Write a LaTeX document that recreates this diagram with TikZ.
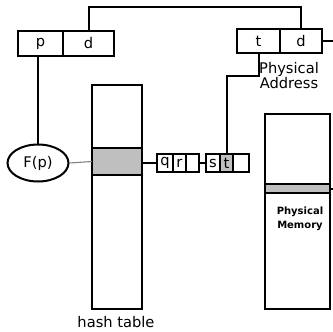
\documentclass[tikz,border=0pt]{standalone}
\usepackage{fontspec}
\setmainfont{DejaVu Sans}
\usetikzlibrary{shapes.geometric, positioning}

\begin{document}
\begin{tikzpicture}[
    x=0.75pt, y=-0.75pt,
    txt/.style={font=\fontsize{11}{11.5}\selectfont},
    cell/.style={rectangle, draw, line width=1.5pt, outer sep=0pt, inner sep=0pt, txt},
    bigcell/.style={cell, minimum height=18.5pt},
    smallcell/.style={cell, minimum height=13.5pt},
    col/.style={rectangle, draw, line width=1.5pt, outer sep=0pt, inner sep=0pt},
    wire/.style={line width=1.5pt},
]
\useasboundingbox (0,0) rectangle (333,332);

% Logical address
\node[bigcell, minimum width=33.75pt] (p) at (40.5,43.5) {p};
\node[bigcell, minimum width=38.25pt, right=0pt of p] (ld) {d};

% Physical address
\node[bigcell, minimum width=32.25pt] (t) at (258.5,41) {t};
\node[bigcell, minimum width=31.5pt, right=0pt of t] (pd) {d};
\node[txt, align=center, anchor=north, inner sep=0pt] (paddr) at (289,62) {Physical\\Address};

% Hash function
\node[ellipse, draw, line width=1.5pt, minimum width=45.75pt, minimum height=27.75pt, inner sep=0pt, txt] (fp) at (38,163) {F(p)};

% Hash table
\node[col, minimum width=37.5pt, minimum height=168pt] (htab) at (117,197) {};
\node[col, fill=gray!50, minimum width=37.5pt, minimum height=20.25pt] (hrow) at (117,161.5) {};
\node[txt, anchor=north, inner sep=0pt] (hlabel) at (116,316) {hash table};

% Chain entries
\node[smallcell, minimum width=12pt] (q) at (165,163) {q};
\node[smallcell, minimum width=9.75pt, right=0pt of q] (r) {r};
\node[smallcell, minimum width=9.75pt, right=0pt of r] (qnext) {};
\node[smallcell, minimum width=10.5pt] (s) at (213,163) {s};
\node[smallcell, minimum width=9.75pt, fill=gray!50, right=0pt of s] (tt) {t};
\node[smallcell, minimum width=12pt, right=0pt of tt] (snext) {};

% Physical memory
\node[col, minimum width=48.75pt, minimum height=146.25pt] (pmem) at (297.5,211.5) {};
\node[col, fill=gray!50, minimum width=48.75pt, minimum height=6.75pt] (frame) at (297.5,188.5) {};
\node[font=\fontsize{7.5}{10}\selectfont\bfseries, align=center, anchor=north, inner sep=0pt] (plabel) at (300,207) {Physical\\Memory};

\coordinate (pdout) at (333,41);
\coordinate (frout) at (333,188.5);

% Connectors
\draw[wire] (ld.north) -- ++(0,-24) -| (pd.north);
\draw[wire] (pd.east) -- (pdout);
\draw[wire] (fp.north) -- (fp.north |- p.south);
\draw[gray, line width=0.8pt] (fp.east) -- (hrow.west);
\draw[wire] (hrow.east |- q.west) -- (q.west);
\draw[wire] (qnext.east) -- (s.west);
\draw[wire] (t.south) -- ++(0,23) -| (tt.north);
\draw[wire] (frame.east) -- (frout);
\end{tikzpicture}
\end{document}
